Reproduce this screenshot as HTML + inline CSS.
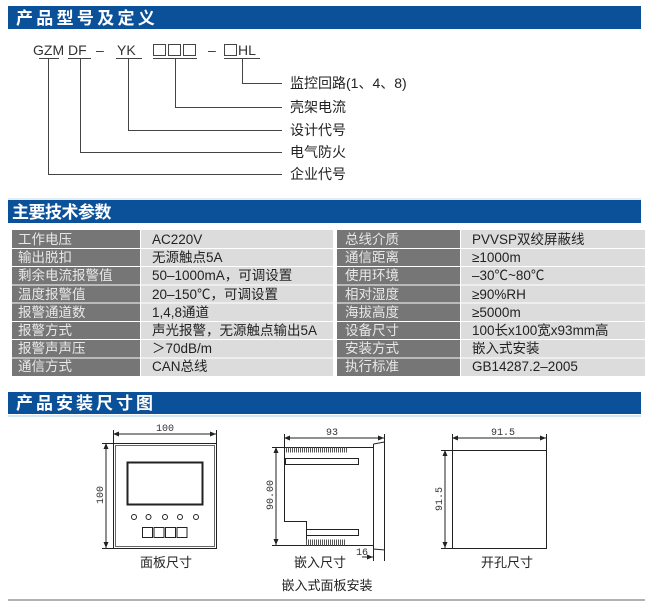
<!DOCTYPE html>
<html><head><meta charset="utf-8"><style>
html,body{margin:0;padding:0;background:#fff;}
body{width:653px;height:604px;overflow:hidden;position:relative;font-family:"Liberation Sans","Noto Sans CJK SC",sans-serif;}
svg{position:absolute;left:0;top:0;}
.hd{font-family:"Noto Sans CJK SC",sans-serif;font-weight:bold;font-size:17px;fill:#fff;}
.t{font-family:"Liberation Sans","Noto Sans CJK SC",sans-serif;font-size:14px;fill:#222;}
.tl{font-family:"Liberation Sans","Noto Sans CJK SC",sans-serif;font-size:13.5px;fill:#e8e8e8;}
.tv{font-family:"Liberation Sans","Noto Sans CJK SC",sans-serif;font-size:13.5px;fill:#222;}
.d{font-family:"Liberation Mono",monospace;font-size:10px;fill:#333;}
</style></head><body>
<svg width="653" height="604" viewBox="0 0 653 604">
<defs>
<marker id="a" markerWidth="6" markerHeight="6" refX="6" refY="3" orient="auto-start-reverse"><path d="M0,0.5 L6,3 L0,5.5z" fill="#222"/></marker>
<pattern id="h" width="2" height="6" patternUnits="userSpaceOnUse"><rect width="1" height="6" fill="#555"/></pattern>
</defs>
<!-- headers -->
<rect x="8" y="6" width="633" height="23" fill="#0b519a"/>
<text class="hd" x="16" y="24" style="letter-spacing:3.3px">产品型号及定义</text>
<line x1="8" y1="199" x2="641" y2="199" stroke="#c8dbe8"/>
<rect x="8" y="200" width="633" height="23" fill="#0b519a"/>
<text class="hd" x="12" y="218" style="letter-spacing:-0.5px">主要技术参数</text>
<rect x="8" y="392" width="633" height="22" fill="#0b519a"/>
<text class="hd" x="16" y="409" style="letter-spacing:3px">产品安装尺寸图</text>
<line x1="8" y1="416" x2="641" y2="416" stroke="#d0eaf5" stroke-width="2"/>
<line x1="8" y1="600" x2="645" y2="600" stroke="#999" stroke-width="1.5"/>

<!-- model code -->
<text class="t" x="33" y="55" style="fill:#333">GZM</text>
<text class="t" x="68" y="55" style="fill:#333">DF</text>
<text class="t" x="96" y="55" style="fill:#333">–</text>
<text class="t" x="117" y="55" style="fill:#333">YK</text>
<text class="t" x="208" y="55" style="fill:#333">–</text>
<text class="t" x="238" y="55" style="fill:#333">HL</text>
<g stroke="#444" stroke-width="1" fill="none">
<rect x="153.5" y="44.5" width="12" height="11"/><rect x="168.5" y="44.5" width="12" height="11"/><rect x="183.5" y="44.5" width="12" height="11"/>
<rect x="224.5" y="44.5" width="12" height="11"/>
<line x1="39" y1="58.5" x2="59" y2="58.5"/><line x1="68" y1="58.5" x2="91" y2="58.5"/>
<line x1="116" y1="58.5" x2="142" y2="58.5"/><line x1="153" y1="58.5" x2="197" y2="58.5"/>
<line x1="224" y1="58.5" x2="260" y2="58.5"/>
<polyline points="48.5,59 48.5,174.5 282,174.5"/>
<polyline points="80.5,59 80.5,152.5 282,152.5"/>
<polyline points="128.5,59 128.5,130.5 282,130.5"/>
<polyline points="175.5,59 175.5,107.5 282,107.5"/>
<polyline points="242.5,59 242.5,83.5 282,83.5"/>
</g>
<text class="t" x="290" y="88">监控回路(1、4、8)</text>
<text class="t" x="290" y="112">壳架电流</text>
<text class="t" x="290" y="135">设计代号</text>
<text class="t" x="290" y="157">电气防火</text>
<text class="t" x="290" y="179">企业代号</text>

<!-- table -->
<g>
<rect x="12" y="230" width="128" height="146" fill="#767676"/>
<rect x="141" y="230" width="192" height="146" fill="#dcdcdc"/>
<rect x="337" y="230" width="123" height="146" fill="#767676"/>
<rect x="461" y="230" width="184" height="146" fill="#dcdcdc"/>
<g stroke="#fff" stroke-width="1">
<line x1="12" y1="248.5" x2="645" y2="248.5"/><line x1="12" y1="266.5" x2="645" y2="266.5"/>
<line x1="12" y1="285" x2="645" y2="285"/><line x1="12" y1="303" x2="645" y2="303"/>
<line x1="12" y1="321.5" x2="645" y2="321.5"/><line x1="12" y1="339.5" x2="645" y2="339.5"/>
<line x1="12" y1="358" x2="645" y2="358"/>
</g>
</g>
<text class="tl" x="18" y="244">工作电压</text><text class="tl" x="18" y="262">输出脱扣</text>
<text class="tl" x="18" y="280">剩余电流报警值</text><text class="tl" x="18" y="299">温度报警值</text>
<text class="tl" x="18" y="317">报警通道数</text><text class="tl" x="18" y="335">报警方式</text>
<text class="tl" x="18" y="353">报警声声压</text><text class="tl" x="18" y="371">通信方式</text>
<text class="tl" x="345" y="244">总线介质</text><text class="tl" x="345" y="262">通信距离</text>
<text class="tl" x="345" y="280">使用环境</text><text class="tl" x="345" y="299">相对湿度</text>
<text class="tl" x="345" y="317">海拔高度</text><text class="tl" x="345" y="335">设备尺寸</text>
<text class="tl" x="345" y="353">安装方式</text><text class="tl" x="345" y="371">执行标准</text>
<text class="tv" x="152" y="244">AC220V</text><text class="tv" x="152" y="262">无源触点5A</text>
<text class="tv" x="152" y="280">50–1000mA，可调设置</text><text class="tv" x="152" y="299">20–150℃，可调设置</text>
<text class="tv" x="152" y="317">1,4,8通道</text><text class="tv" x="152" y="335">声光报警，无源触点输出5A</text>
<text class="tv" x="152" y="353">＞70dB/m</text><text class="tv" x="152" y="371">CAN总线</text>
<text class="tv" x="472" y="244">PVVSP双绞屏蔽线</text><text class="tv" x="472" y="262">≥1000m</text>
<text class="tv" x="472" y="280">–30℃~80℃</text><text class="tv" x="472" y="299">≥90%RH</text>
<text class="tv" x="472" y="317">≥5000m</text><text class="tv" x="472" y="335">100长x100宽x93mm高</text>
<text class="tv" x="472" y="353">嵌入式安装</text><text class="tv" x="472" y="371">GB14287.2–2005</text>

<!-- drawings -->
<g stroke="#222" stroke-width="1" fill="none">
<line x1="113" y1="434" x2="216" y2="434" marker-start="url(#a)" marker-end="url(#a)"/>
<line x1="113.5" y1="430" x2="113.5" y2="443"/><line x1="216.5" y1="430" x2="216.5" y2="443"/>
<line x1="106" y1="443" x2="106" y2="548" marker-start="url(#a)" marker-end="url(#a)"/>
<line x1="102" y1="443.5" x2="113" y2="443.5"/><line x1="102" y1="548.5" x2="113" y2="548.5"/>
<rect x="113.5" y="443.5" width="103" height="105"/>
<rect x="115.5" y="445.5" width="99" height="101" stroke="#666"/>
<rect x="127.5" y="462.5" width="75" height="42" stroke-width="2"/>
<circle cx="134" cy="517" r="2.5"/><circle cx="148.5" cy="517" r="2.5"/><circle cx="165" cy="517" r="2.5"/><circle cx="180" cy="517" r="2.5"/><circle cx="196" cy="517" r="2.5"/>
<rect x="142.5" y="527.5" width="10" height="10"/><rect x="154" y="527.5" width="10" height="10"/><rect x="165.5" y="527.5" width="10" height="10"/><rect x="177" y="527.5" width="10" height="10"/>
<line x1="284" y1="438" x2="384" y2="438" marker-start="url(#a)" marker-end="url(#a)"/>
<line x1="284.5" y1="434" x2="284.5" y2="447"/><line x1="384.5" y1="434" x2="384.5" y2="444"/>
<line x1="276" y1="447" x2="276" y2="545" marker-start="url(#a)" marker-end="url(#a)"/>
<line x1="272" y1="447.5" x2="284" y2="447.5"/><line x1="272" y1="545.5" x2="306" y2="545.5"/>
<polyline points="373,447.5 284.5,447.5 284.5,521.5 306.5,521.5 306.5,545.5 373,545.5"/>
<polyline points="373.5,444 384.5,442 384.5,550 373.5,549 373.5,444"/>
<rect x="285.5" y="458.5" width="73" height="6"/>
<rect x="306.5" y="529.5" width="52" height="6"/>
<line x1="373.5" y1="549" x2="373.5" y2="561"/><line x1="384.5" y1="550" x2="384.5" y2="561"/>
<line x1="362" y1="557" x2="373" y2="557" marker-end="url(#a)"/>
<line x1="452" y1="438" x2="546" y2="438" marker-start="url(#a)" marker-end="url(#a)"/>
<line x1="452.5" y1="434" x2="452.5" y2="450"/><line x1="546.5" y1="434" x2="546.5" y2="450"/>
<line x1="445" y1="450" x2="445" y2="548" marker-start="url(#a)" marker-end="url(#a)"/>
<line x1="441" y1="450.5" x2="452" y2="450.5"/><line x1="441" y1="548.5" x2="452" y2="548.5"/>
<rect x="452.5" y="450.5" width="94" height="98"/>
</g>
<rect x="286" y="447.5" width="61" height="5" fill="url(#h)"/>
<rect x="306" y="539.5" width="39" height="6" fill="url(#h)"/>
<text class="d" x="165" y="431" text-anchor="middle">100</text>
<text class="d" x="0" y="0" text-anchor="middle" transform="translate(103,495) rotate(-90)">100</text>
<text class="d" x="332" y="435" text-anchor="middle">93</text>
<text class="d" x="0" y="0" text-anchor="middle" transform="translate(273,495) rotate(-90)">90.00</text>
<text class="d" x="362" y="555" text-anchor="middle">16</text>
<text class="d" x="503" y="435" text-anchor="middle">91.5</text>
<text class="d" x="0" y="0" text-anchor="middle" transform="translate(442,499) rotate(-90)">91.5</text>
<text class="t" x="166" y="567" text-anchor="middle" style="font-size:13px">面板尺寸</text>
<text class="t" x="320" y="567" text-anchor="middle" style="font-size:13px">嵌入尺寸</text>
<text class="t" x="327" y="590" text-anchor="middle" style="font-size:13px">嵌入式面板安装</text>
<text class="t" x="507" y="567" text-anchor="middle" style="font-size:13px">开孔尺寸</text>
</svg>
</body></html>
